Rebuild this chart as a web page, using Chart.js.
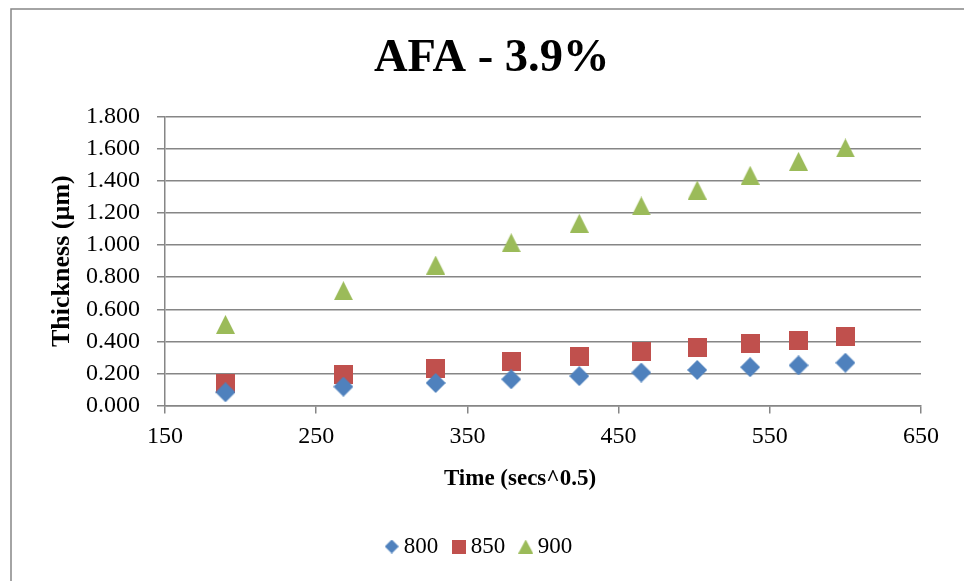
<!DOCTYPE html>
<html>
<head>
<meta charset="utf-8">
<title>AFA - 3.9%</title>
<script src="https://cdn.jsdelivr.net/npm/chart.js@4/dist/chart.umd.min.js"></script>
<style>
  html, body { margin: 0; padding: 0; background: #ffffff; }
  #wrap { width: 964px; height: 581px; }
</style>
</head>
<body>
<div id="wrap"><canvas id="chart" width="964" height="581"></canvas></div>
<script>
// Time axis values (square root of seconds)
const timeValues = [190, 268, 329, 379, 424, 465, 502, 537, 569, 600];

// Oxide thickness (µm) per temperature
const thickness800 = [0.083, 0.118, 0.141, 0.164, 0.184, 0.206, 0.222, 0.239, 0.251, 0.267];
const thickness850 = [0.136, 0.196, 0.234, 0.272, 0.303, 0.334, 0.359, 0.384, 0.407, 0.430];
const thickness900 = [0.506, 0.716, 0.876, 1.015, 1.136, 1.244, 1.343, 1.435, 1.522, 1.605];

const seriesNames = ['800', '850', '900'];
const seriesColors = ['#4F81BD', '#C0504D', '#9BBB59'];

const chartTitle = 'AFA - 3.9%';
const xTitle = 'Time (secs^0.5)';
const yTitle = 'Thickness (µm)';

const FONT = "'Liberation Serif', 'Times New Roman', serif";
const GRID = '#868686';

// Build a small marker bitmap used as a point style
function makeMarker(shape, w, h, color) {
  const c = document.createElement('canvas');
  c.width = w; c.height = h;
  const g = c.getContext('2d');
  g.fillStyle = color;
  g.beginPath();
  if (shape === 'diamond') {
    g.moveTo(w / 2, 0); g.lineTo(w, h / 2); g.lineTo(w / 2, h); g.lineTo(0, h / 2);
  } else if (shape === 'square') {
    g.rect(0, 0, w, h);
  } else {
    g.moveTo(w / 2, 0); g.lineTo(w, h); g.lineTo(0, h);
  }
  g.closePath();
  g.fill();
  return c;
}

const plotMarkers = [
  makeMarker('diamond', 20, 20, seriesColors[0]),
  makeMarker('square', 19, 19, seriesColors[1]),
  makeMarker('triangle', 19, 19, seriesColors[2])
];
const legendMarkers = [
  makeMarker('diamond', 14, 14, seriesColors[0]),
  makeMarker('square', 14, 14, seriesColors[1]),
  makeMarker('triangle', 15, 14, seriesColors[2])
];

function toPoints(ys) {
  return timeValues.map((x, i) => ({ x: x, y: ys[i] }));
}
const seriesValues = [thickness800, thickness850, thickness900];

const datasets = seriesNames.map((name, i) => ({
  label: name,
  data: toPoints(seriesValues[i]),
  pointStyle: plotMarkers[i],
  pointRadius: 10,
  pointHoverRadius: 10,
  backgroundColor: seriesColors[i],
  borderColor: seriesColors[i],
  showLine: false
}));

// Outer frame of the chart object
const framePlugin = {
  id: 'frame',
  beforeDraw(chart) {
    const ctx = chart.ctx;
    ctx.save();
    ctx.strokeStyle = GRID;
    ctx.lineWidth = 1.5;
    ctx.beginPath();
    ctx.moveTo(11, chart.height + 2);
    ctx.lineTo(11, 9);
    ctx.lineTo(chart.width + 2, 9);
    ctx.stroke();
    ctx.restore();
  }
};

// Centre the title over the plot rather than the full legend band
const titleShift = {
  id: 'titleShift',
  afterLayout(chart) {
    if (chart.titleBlock) chart.titleBlock.left += 20;
  }
};

// Horizontal axis caption, set a little left of the plot centre
const xCaption = {
  id: 'xCaption',
  afterDraw(chart) {
    const ctx = chart.ctx;
    const area = chart.chartArea;
    ctx.save();
    ctx.fillStyle = '#000';
    ctx.font = "bold 23px " + FONT;
    ctx.textAlign = 'center';
    ctx.textBaseline = 'alphabetic';
    ctx.fillText(xTitle, (area.left + area.right) / 2 - 23, area.bottom + 79.5);
    ctx.restore();
  }
};

const LEFT_PAD = 42.4;

new Chart(document.getElementById('chart'), {
  type: 'scatter',
  data: { datasets: datasets },
  plugins: [framePlugin, titleShift, xCaption],
  options: {
    responsive: false,
    animation: false,
    events: [],
    layout: { padding: { left: LEFT_PAD, right: 43, top: 0, bottom: 13 } },
    plugins: {
      title: {
        display: true,
        text: chartTitle,
        color: '#000',
        font: { family: FONT, size: 46.5, weight: 'bold', lineHeight: 1.2 },
        padding: { top: 31.2, bottom: 29.7 }
      },
      legend: {
        display: true,
        position: 'bottom',
        labels: {
          usePointStyle: true,
          pointStyleWidth: 1,
          padding: 20,
          color: '#000',
          font: { family: FONT, size: 23 },
          generateLabels(chart) {
            return seriesNames.map((name, i) => ({
              text: name,
              pointStyle: legendMarkers[i],
              fillStyle: seriesColors[i],
              strokeStyle: seriesColors[i],
              lineWidth: 0,
              hidden: false,
              datasetIndex: i,
              fontColor: '#000'
            }));
          }
        }
      },
      tooltip: { enabled: false }
    },
    scales: {
      x: {
        type: 'linear',
        min: 150,
        max: 650,
        afterFit(scale) { scale.height = 109.4; },
        ticks: {
          stepSize: 100,
          padding: 9,
          color: '#000',
          font: { family: FONT, size: 24 },
          maxRotation: 0
        },
        grid: {
          drawOnChartArea: false,
          drawTicks: true,
          tickLength: 8,
          color: GRID,
          lineWidth: 1.5
        },
        border: { color: GRID, width: 1.5 },
        title: { display: false }
      },
      y: {
        type: 'linear',
        min: 0,
        max: 1.8,
        afterFit(scale) { scale.width = 165 - LEFT_PAD; },
        ticks: {
          stepSize: 0.2,
          padding: 17,
          color: '#000',
          font: { family: FONT, size: 24 },
          callback: (v) => Number(v).toFixed(3)
        },
        grid: {
          drawOnChartArea: true,
          drawTicks: true,
          tickLength: 8,
          color: GRID,
          lineWidth: 1.5
        },
        border: { color: GRID, width: 1.5 },
        title: {
          display: true,
          text: yTitle,
          color: '#000',
          font: { family: FONT, size: 26, weight: 'bold', lineHeight: 1.2 },
          padding: { top: 4.5, bottom: 0 }
        }
      }
    }
  }
});
</script>
</body>
</html>
